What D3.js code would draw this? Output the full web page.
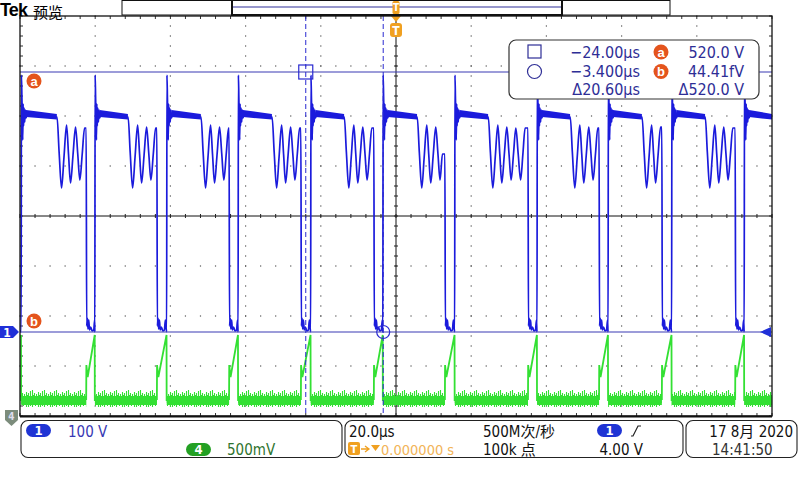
<!DOCTYPE html>
<html>
<head>
<meta charset="utf-8">
<script src="https://d3js.org/d3.v7.min.js"></script>
<style>
  body { margin: 0; background: #fff; }
  svg text { font-family: "Liberation Sans Narrow", "DejaVu Sans Condensed", "Liberation Sans", "Noto Sans CJK SC", sans-serif; }
</style>
</head>
<body>
<svg id="scope" width="800" height="480"></svg>
<script>
// ---- values (time in us from trigger, ch1 in V, ch4 in V) ----
var riseUs = [-99.7, -80.1, -61.0, -42.0, -22.7, -3.5, 15.6, 37.5, 56.4, 73.3, 92.6];
var ringUs = [-90.2, -71.3, -51.9, -33.0, -13.8, 5.6, 24.5, 46.3, 65.4, 82.2];
var fallUs = [-82.4, -63.6, -44.4, -25.3, -5.9, 13.0, 35.1, 54.0, 70.7, 90.2];

// shape after a rising edge: [dt, V]
var spikeShape = [[0, 0], [0.08, 514], [0.21, 468], [0.32, 428], [0.43, 384], [0.53, 456],
  [0.66, 412], [0.80, 448], [0.96, 420], [1.12, 444], [1.33, 428], [1.60, 438]];
// plateau: noise band top / bottom at start and end
var plateauTop = [444, 436];
var plateauBot = [430, 425];
var plateauMid = [437, 430];
// ringing after plateau: [dt, V]
var ringShape = [[0.05, 430], [0.6, 360], [1.25, 288], [1.9, 350], [2.58, 414], [3.1, 356],
  [3.64, 298], [4.3, 354], [4.97, 410], [5.55, 357], [6.12, 304], [6.75, 356], [7.37, 408],
  [8.0, 356], [8.64, 304], [9.25, 356], [9.84, 408]];
// shape after a falling edge: [dt, V]
var lowShape = [[0.13, 12], [0.32, 28], [0.48, 6], [0.69, 24], [0.88, 4], [1.2, 10],
  [1.6, 2], [2.0, 4], [2.26, 24]];

// ch4 current sense
var ch4Band = [0.11, 0.20];
var ch4Ramp = [[0, 0.16], [0.05, 0.51], [0.40, 0.39]];
var ch4Peak = 0.81;
var ch4After = 0.15;

// cursors
var cursorT = [-24.00, -3.400];
var cursorV = [520.0, 44.41e-15];
var readoutT = ["\u221224.00\u03bcs", "\u22123.400\u03bcs", "\u039420.60\u03bcs"];
var readoutV = ["520.0 V", "44.41fV", "\u0394520.0 V"];

// status texts
var ch1Scale = "100 V";
var ch4Scale = "500mV";
var timeScale = "20.0\u03bcs";
var trigPos = "0.000000 s";
var sampleRate = "500M\u6b21/\u79d2";
var recordLen = "100k \u70b9";
var trigLevel = "4.00 V";
var dateText = "17 8\u6708 2020";
var clockText = "14:41:50";

var svg = d3.select("#scope");
var xs = d3.scaleLinear().domain([-100, 100]).range([20, 772]);
var y1 = d3.scaleLinear().domain([-168, 632]).range([416, 16]);
var y4 = d3.scaleLinear().domain([0, 4]).range([416, 16]);
var xd = d3.scaleLinear().domain([0, 10]).range([20, 772]);
var yd = d3.scaleLinear().domain([0, 8]).range([416, 16]);

var blue = "#1b1bdc", green = "#33e033", navy = "#2e2e96", orange = "#e4541c";

// noise texture for ch4 baseline
var defs = svg.append("defs");
var pat = defs.append("pattern").attr("id", "noise").attr("patternUnits", "userSpaceOnUse")
  .attr("x", 0).attr("y", y4(0.28)).attr("width", 12).attr("height", 22);
var tops = [6, 9, 4, 7, 5, 10, 3, 8, 2, 7, 5, 9];
var bots = [17, 15, 19, 16, 19, 16, 18, 14, 19, 16, 15, 18];
tops.forEach(function(t, j) {
  pat.append("line").attr("x1", j + 0.5).attr("x2", j + 0.5).attr("y1", t).attr("y2", bots[j])
    .attr("stroke", green).attr("stroke-width", 1.1);
});

// ---- graticule ----
var grid = svg.append("g");
var minor = d3.range(0, 10.01, 0.2);
var minorY = d3.range(0, 8.01, 0.2);
[1, 2, 3, 4, 6, 7, 8, 9].forEach(function(k) {
  grid.selectAll(null).data(minorY).join("rect")
    .attr("x", xd(k) - 0.6).attr("y", d => yd(d) - 0.6).attr("width", 1.2).attr("height", 1.2)
    .attr("fill", "#555");
});
[1, 2, 3, 5, 6, 7].forEach(function(k) {
  grid.selectAll(null).data(minor).join("rect")
    .attr("x", d => xd(d) - 0.6).attr("y", yd(k) - 0.6).attr("width", 1.2).attr("height", 1.2)
    .attr("fill", "#555");
});
grid.append("line").attr("x1", xd(0)).attr("x2", xd(10)).attr("y1", yd(4)).attr("y2", yd(4))
  .attr("stroke", "#111").attr("stroke-width", 1);
grid.append("line").attr("x1", xd(5)).attr("x2", xd(5)).attr("y1", yd(0)).attr("y2", yd(8))
  .attr("stroke", "#111").attr("stroke-width", 1);
grid.selectAll(null).data(minor).join("line")
  .attr("x1", d => xd(d)).attr("x2", d => xd(d)).attr("y1", yd(4) - 2).attr("y2", yd(4) + 2)
  .attr("stroke", "#222");
grid.selectAll(null).data(minorY).join("line")
  .attr("y1", d => yd(d)).attr("y2", d => yd(d)).attr("x1", xd(5) - 2).attr("x2", xd(5) + 2)
  .attr("stroke", "#222");
// border ticks
grid.selectAll(null).data(minor).join("line")
  .attr("x1", d => xd(d)).attr("x2", d => xd(d)).attr("y1", yd(8)).attr("y2", yd(8) + 3).attr("stroke", "#333");
grid.selectAll(null).data(minor).join("line")
  .attr("x1", d => xd(d)).attr("x2", d => xd(d)).attr("y1", yd(0)).attr("y2", yd(0) - 3).attr("stroke", "#333");
grid.selectAll(null).data(minorY).join("line")
  .attr("y1", d => yd(d)).attr("y2", d => yd(d)).attr("x1", xd(0)).attr("x2", xd(0) + 3).attr("stroke", "#333");
grid.selectAll(null).data(minorY).join("line")
  .attr("y1", d => yd(d)).attr("y2", d => yd(d)).attr("x1", xd(10)).attr("x2", xd(10) - 3).attr("stroke", "#333");

// ---- build traces ----
var ch1 = [[-100, 4]];
var bands = [];
riseUs.forEach(function(r, i) {
  spikeShape.forEach(p => ch1.push([r + p[0], p[1]]));
  var end = i < ringUs.length ? ringUs[i] : 100;
  ch1.push([r + 1.8, plateauMid[0]]);
  ch1.push([end - 0.05, plateauMid[1]]);
  bands.push([[r + 1.3, plateauTop[0], plateauBot[0]], [end, plateauTop[1], plateauBot[1]]]);
  if (i < ringUs.length) {
    ringShape.filter(p => ringUs[i] + p[0] < fallUs[i] - 0.05)
      .forEach(p => ch1.push([ringUs[i] + p[0], p[1]]));
    ch1.push([fallUs[i], ch1[ch1.length - 1][1]]);
    var gap = riseUs[i + 1] - fallUs[i];
    lowShape.filter(p => p[0] < gap - 0.03).forEach(p => ch1.push([fallUs[i] + p[0], p[1]]));
  }
});

svg.append("clipPath").attr("id", "plot").append("rect")
  .attr("x", 20).attr("y", 16).attr("width", 752).attr("height", 400);

// ch4 baseline bands
var ch4g = svg.append("g").attr("clip-path", "url(#plot)");
var baseSpans = riseUs.map((r, i) => [r + 0.03, i < fallUs.length ? fallUs[i] : 100]);
ch4g.selectAll("rect").data(baseSpans).join("rect")
  .attr("x", d => xs(d[0])).attr("width", d => xs(d[1]) - xs(d[0]))
  .attr("y", y4(0.28)).attr("height", y4(0.06) - y4(0.28))
  .attr("fill", "url(#noise)");
ch4g.selectAll("rect.core").data(baseSpans).join("rect").attr("class", "core")
  .attr("x", d => xs(d[0])).attr("width", d => xs(d[1]) - xs(d[0]))
  .attr("y", y4(ch4Band[1])).attr("height", y4(ch4Band[0]) - y4(ch4Band[1]))
  .attr("fill", green);
var ch4Lines = [[[-100, 0.78], [riseUs[0] - 0.03, ch4Peak], [riseUs[0], ch4After]]];
fallUs.forEach(function(f, i) {
  var seg = ch4Ramp.map(p => [f + p[0], p[1]]);
  seg.push([riseUs[i + 1] - 0.03, ch4Peak]);
  seg.push([riseUs[i + 1], ch4After]);
  ch4Lines.push(seg);
});
var line4 = d3.line().x(d => xs(d[0])).y(d => y4(d[1]));
ch4g.selectAll("path").data(ch4Lines).join("path")
  .attr("d", line4).attr("fill", "none").attr("stroke", green).attr("stroke-width", 1.8);

// ch1
var ch1g = svg.append("g").attr("clip-path", "url(#plot)");
var area1 = d3.area().x(d => xs(d[0])).y0(d => y1(d[2])).y1(d => y1(d[1]));
ch1g.selectAll("path.band").data(bands).join("path").attr("class", "band")
  .attr("d", area1).attr("fill", blue);
var line1 = d3.line().x(d => xs(d[0])).y(d => y1(d[1])).curve(d3.curveMonotoneX);
ch1g.append("path").datum(ch1).attr("d", line1)
  .attr("fill", "none").attr("stroke", blue).attr("stroke-width", 1.7);

// ---- cursors ----
var cur = svg.append("g");
cursorV.forEach(function(v) {
  cur.append("line").attr("x1", 20).attr("x2", 772).attr("y1", y1(v)).attr("y2", y1(v))
    .attr("stroke", "#3a3ab4").attr("stroke-width", 1.1);
});
cursorT.forEach(function(t) {
  cur.append("line").attr("x1", xs(t)).attr("x2", xs(t)).attr("y1", 16).attr("y2", 416)
    .attr("stroke", "#2a2ad0").attr("stroke-width", 1).attr("stroke-dasharray", "5,3");
});
cur.append("rect").attr("x", xs(cursorT[0]) - 7).attr("y", y1(cursorV[0]) - 7)
  .attr("width", 14).attr("height", 14).attr("fill", "none").attr("stroke", "#2a2ad0").attr("stroke-width", 1.2);
cur.append("circle").attr("cx", xs(cursorT[1])).attr("cy", y1(cursorV[1])).attr("r", 6.5)
  .attr("fill", "none").attr("stroke", "#2a2ad0").attr("stroke-width", 1.2);

function badge(g, x, y, letter) {
  g.append("circle").attr("cx", x).attr("cy", y).attr("r", 7.5).attr("fill", orange);
  g.append("text").attr("x", x).attr("y", y + 4.5).attr("text-anchor", "middle")
    .attr("fill", "#fff").attr("font-size", 13).attr("font-weight", "bold")
    .style("font-family", "Liberation Sans").text(letter);
}
badge(cur, 34, 81, "a");
badge(cur, 34, 321, "b");

// channel markers
svg.append("path").attr("d", "M0,326 H13 L19,332 L13,338 H0 Z").attr("fill", "#2030d8");
svg.append("text").attr("x", 7).attr("y", 336.5).attr("text-anchor", "middle").attr("fill", "#fff")
  .attr("font-size", 12).attr("font-weight", "bold").text("1");
svg.append("path").attr("d", "M5,410 H18 V420 L11.5,426 L5,420 Z").attr("fill", "#7c8c7c");
svg.append("text").attr("x", 11.5).attr("y", 420).attr("text-anchor", "middle").attr("fill", "#dde")
  .attr("font-size", 10).attr("font-weight", "bold").text("4");
svg.append("path").attr("d", "M760,332 L771,327 V337 Z").attr("fill", "#2030d8");

// trigger markers
svg.append("path").attr("d", "M391,16 H401 L396,22 Z").attr("fill", "#f0a020");
svg.append("rect").attr("x", 390).attr("y", 23).attr("width", 12).attr("height", 14).attr("rx", 3)
  .attr("fill", "#f0a020");
svg.append("text").attr("x", 396).attr("y", 34.5).attr("text-anchor", "middle").attr("fill", "#fff")
  .attr("font-size", 12).attr("font-weight", "bold").text("T");

// border
svg.append("rect").attr("x", 20).attr("y", 16).attr("width", 752).attr("height", 400)
  .attr("fill", "none").attr("stroke", "#111").attr("stroke-width", 1.3);
svg.append("line").attr("x1", 20).attr("x2", 772).attr("y1", 416.5).attr("y2", 416.5)
  .attr("stroke", "#111").attr("stroke-width", 2);

// ---- top bar ----
svg.append("text").attr("x", 0).attr("y", 16).attr("font-size", 18).attr("font-weight", "bold")
  .style("font-family", "Liberation Sans").attr("letter-spacing", -0.8).text("Tek");
svg.append("text").attr("x", 33).attr("y", 17.5).attr("font-size", 15)
  .style("font-family", "Noto Sans CJK SC").text("\u9884\u89c8");
svg.append("rect").attr("x", 122).attr("y", 0.5).attr("width", 548).attr("height", 14.5)
  .attr("fill", "#fff").attr("stroke", "#111").attr("stroke-width", 1);
svg.append("line").attr("x1", 232).attr("x2", 562).attr("y1", 7).attr("y2", 7)
  .attr("stroke", "#30309a").attr("stroke-width", 1.2);
svg.append("line").attr("x1", 232).attr("x2", 562).attr("y1", 15).attr("y2", 15)
  .attr("stroke", "#111").attr("stroke-width", 2);
[232, 562].forEach(function(x) {
  svg.append("line").attr("x1", x).attr("x2", x).attr("y1", 0).attr("y2", 16)
    .attr("stroke", "#111").attr("stroke-width", 2);
});
svg.append("rect").attr("x", 392.5).attr("y", 1).attr("width", 7).attr("height", 13).attr("rx", 1.5)
  .attr("fill", "#f0a020");
svg.append("text").attr("x", 396).attr("y", 11).attr("text-anchor", "middle").attr("fill", "#fff")
  .attr("font-size", 10).attr("font-weight", "bold").text("T");

// ---- cursor readout ----
var ro = svg.append("g");
ro.append("rect").attr("x", 509).attr("y", 40).attr("width", 250).attr("height", 59).attr("rx", 7)
  .attr("fill", "#fff").attr("stroke", "#333").attr("stroke-width", 1.2);
ro.append("rect").attr("x", 528).attr("y", 45).attr("width", 13).attr("height", 13)
  .attr("fill", "none").attr("stroke", navy).attr("stroke-width", 1.2);
ro.append("circle").attr("cx", 534.5).attr("cy", 71.5).attr("r", 7)
  .attr("fill", "none").attr("stroke", navy).attr("stroke-width", 1.2);
var rowY = [58, 77, 95];
readoutT.forEach(function(s, i) {
  ro.append("text").attr("x", 640).attr("y", rowY[i]).attr("text-anchor", "end")
    .attr("fill", navy).attr("font-size", 16).text(s);
});
readoutV.forEach(function(s, i) {
  ro.append("text").attr("x", 744).attr("y", rowY[i]).attr("text-anchor", "end")
    .attr("fill", navy).attr("font-size", 16).text(s);
});
badge(ro, 661, 52, "a");
badge(ro, 661, 71.5, "b");

// ---- status panels ----
var st = svg.append("g");
[[21, 321], [345, 338], [686, 111]].forEach(function(p) {
  st.append("rect").attr("x", p[0]).attr("y", 420.5).attr("width", p[1]).attr("height", 37).attr("rx", 7)
    .attr("fill", "#fff").attr("stroke", "#222").attr("stroke-width", 1.1);
});
function pill(x, y, w, fill, label) {
  st.append("rect").attr("x", x).attr("y", y).attr("width", w).attr("height", 13).attr("rx", 6.5).attr("fill", fill);
  st.append("text").attr("x", x + w / 2).attr("y", y + 11).attr("text-anchor", "middle").attr("fill", "#fff")
    .attr("font-size", 13).attr("font-weight", "bold").text(label);
}
pill(26, 424, 25, "#1f34d4", "1");
st.append("text").attr("x", 68).attr("y", 437).attr("font-size", 15).attr("fill", "#3838b4").text(ch1Scale);
pill(186, 443, 25, "#23a023", "4");
st.append("text").attr("x", 227).attr("y", 455).attr("font-size", 15).attr("fill", "#2f742f").text(ch4Scale);

st.append("text").attr("x", 349).attr("y", 437).attr("font-size", 15).attr("fill", "#111").text(timeScale);
st.append("rect").attr("x", 348).attr("y", 442).attr("width", 12).attr("height", 13).attr("rx", 2).attr("fill", "#f0a020");
st.append("text").attr("x", 354).attr("y", 453).attr("text-anchor", "middle").attr("fill", "#fff")
  .attr("font-size", 11).attr("font-weight", "bold").text("T");
st.append("path").attr("d", "M361,449 H368 M365,446 L369,449 L365,452").attr("stroke", "#f0a020")
  .attr("stroke-width", 1.3).attr("fill", "none");
st.append("path").attr("d", "M371,445 H380 L375.5,451 Z").attr("fill", "#f0a020");
st.append("text").attr("x", 381).attr("y", 455).attr("font-size", 14.5).attr("fill", "#f2b458").text(trigPos);
st.append("text").attr("x", 483).attr("y", 437).attr("font-size", 15).attr("fill", "#111").text(sampleRate);
st.append("text").attr("x", 483).attr("y", 455).attr("font-size", 15).attr("fill", "#111").text(recordLen);
pill(597, 424, 25, "#1f34d4", "1");
st.append("path").attr("d", "M631,436 H633 L638,426 H641").attr("stroke", "#222").attr("stroke-width", 1.2).attr("fill", "none");
st.append("text").attr("x", 643).attr("y", 455).attr("text-anchor", "end").attr("font-size", 15).attr("fill", "#111").text(trigLevel);
st.append("text").attr("x", 793).attr("y", 437).attr("text-anchor", "end").attr("font-size", 15).attr("fill", "#111").text(dateText);
st.append("text").attr("x", 712).attr("y", 455).attr("font-size", 15).attr("fill", "#333").text(clockText);
</script>
</body>
</html>
